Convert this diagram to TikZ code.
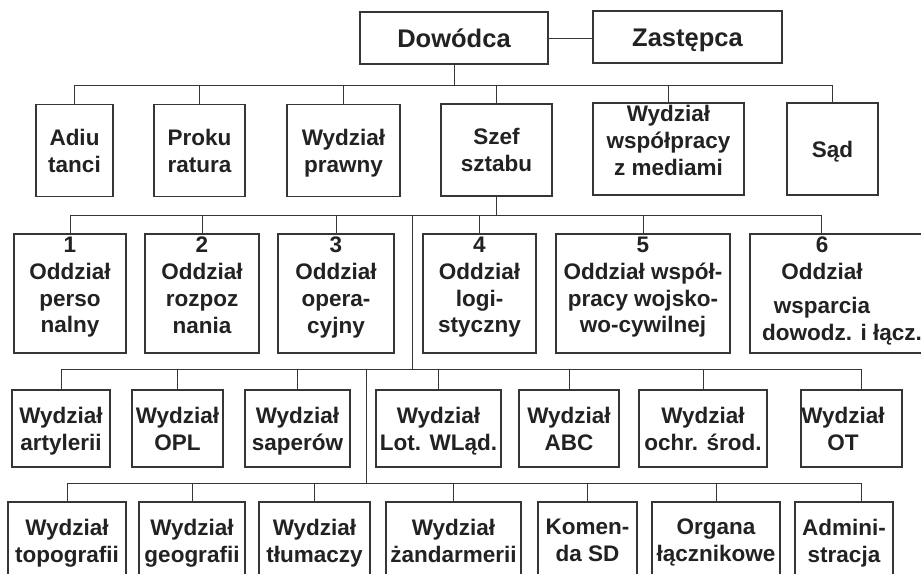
\documentclass[tikz,border=0pt]{standalone}
\usepackage{fontspec}
\setmainfont{Liberation Sans}
\usetikzlibrary{calc}
\definecolor{ink}{HTML}{222222}
\definecolor{linec}{HTML}{363636}

\begin{document}
\begin{tikzpicture}[x=1pt,y=-1pt,
  lab/.style={inner sep=0pt, align=center, text=ink,
    font=\bfseries\fontsize{22.5}{26.8}\selectfont},
  box/.style={lab, draw=linec, line width=1.3pt, rectangle},
  head/.style={box, font=\bfseries\fontsize{25.5}{30}\selectfont,
    text height=18.3pt, text depth=0pt, minimum height=52pt},
  rowA/.style={box, minimum height=92pt, text depth=0pt},
  rowB/.style={box, minimum height=119pt, text depth=17pt},
  rowC/.style={box, minimum height=77pt, text depth=0pt},
  rowD/.style={box, minimum height=77pt, text depth=0pt},
  link/.style={draw=linec, line width=1pt, line cap=rect}
]
\useasboundingbox (0,0) rectangle (921,573);
\fill[white] (0,0) rectangle (921,573);
\clip (0,0) rectangle (921,573);

% commander and deputy
\node[head, minimum width=188pt] (dow) at (454,38) {Dowódca};
\node[head, minimum width=189pt] (zas) at (687.5,37) {Zastępca};

% first level
\node[rowA, minimum width=77pt]  (adi) at (74.5,150.5)  {Adiu\\tanci};
\node[rowA, minimum width=91pt]  (pro) at (199.5,150.5) {Proku\\ratura};
\node[rowA, minimum width=113pt] (pra) at (343.5,150.5) {Wydział\\prawny};
\node[rowA, minimum width=111pt] (sze) at (496.5,150)   {Szef\\sztabu};
\node[rowA, minimum width=151pt, text depth=17pt] (med) at (668.5,149) {Wydział\\współpracy\\z mediami};
\node[rowA, minimum width=91pt]  (sad) at (832.5,149)   {Sąd};

% staff divisions
\node[rowB, minimum width=112pt] (o1) at (70,293.5)    {1\\Oddział\\perso\\nalny};
\node[rowB, minimum width=114pt] (o2) at (202,293.5)   {2\\Oddział\\rozpoz\\nania};
\node[rowB, minimum width=116pt] (o3) at (336,293.5)   {3\\Oddział\\opera-\\cyjny};
\node[rowB, minimum width=113pt] (o4) at (479.5,293.5) {4\\Oddział\\logi-\\styczny};
\node[rowB, minimum width=174pt] (o5) at (643,293.5)   {5\\Oddział współ-\\pracy wojsko-\\wo-cywilnej};
\node[rowB, minimum width=185pt] (o6) at (842.5,293.5) {};
\node[lab, anchor=north] (o6t) at (822,237) {6\\Oddział\\[7pt]wsparcia\\\hspace*{40pt}dowodz. i łącz.};

% branch sections
\node[rowC, minimum width=98pt]  (w1) at (61,428.5)    {Wydział\\artylerii};
\node[rowC, minimum width=91pt]  (w2) at (177.5,428.5) {Wydział\\OPL};
\node[rowC, minimum width=105pt] (w3) at (297.5,428.5) {Wydział\\saperów};
\node[rowC, minimum width=125pt] (w4) at (438.5,428.5) {Wydział\\Lot. WLąd.};
\node[rowC, minimum width=100pt] (w5) at (569,428.5)   {Wydział\\ABC};
\node[rowC, minimum width=128pt] (w6) at (703,428.5)   {Wydział\\ochr. środ.};
\node[rowC, minimum width=101pt] (w7) at (851.5,428.5) {};
\node[lab, text depth=0pt] (w7t) at (843,428.5) {Wydział\\OT};

% support sections
\node[rowD, minimum width=118pt] (z1) at (67,540.5)    {Wydział\\topografii};
\node[rowD, minimum width=106pt] (z2) at (192,540.5)   {Wydział\\geografii};
\node[rowD, minimum width=111pt] (z3) at (314.5,540.5) {Wydział\\tłumaczy};
\node[rowD, minimum width=135pt] (z4) at (453.5,540.5) {Wydział\\żandarmerii};
\node[rowD, minimum width=99pt]  (z5) at (587.5,540.5) {Komen-\\da SD};
\node[rowD, minimum width=128pt] (z6) at (716,540.5)   {Organa\\łącznikowe};
\node[rowD, minimum width=98pt]  (z7) at (844,540.5)   {Admini-\\stracja};

% bus levels and off-centre attachment points
\coordinate (bar1) at (0,85);
\coordinate (bar2) at (0,215);
\coordinate (bar3) at (0,369);
\coordinate (bar4) at (0,483);
\coordinate (sA) at (412,0);
\coordinate (sB) at (366,0);
\coordinate (o6top) at ($(o6.north west)+(72,0)$);
\coordinate (w7top) at ($(w7.north west)+(61,0)$);
\coordinate (z7top) at ($(z7.north west)+(67,0)$);

% connectors
\draw[link] (dow.east) -- (dow.east -| zas.west);

\draw[link] (dow.south) -- (dow.south |- bar1);
\draw[link] (adi.north |- bar1) -- (sad.north |- bar1);
\foreach \n in {adi,pro,pra,sze,med,sad}
  \draw[link] (\n.north) -- (\n.north |- bar1);

\draw[link] (sze.south) -- (sze.south |- bar2);
\draw[link] (o1.north |- bar2) -- (o6top |- bar2);
\foreach \n in {o1,o2,o3,o4,o5}
  \draw[link] (\n.north) -- (\n.north |- bar2);
\draw[link] (o6top) -- (o6top |- bar2);

\draw[link] (sA |- bar2) -- (sA |- bar3);
\draw[link] (w1.north |- bar3) -- (w7top |- bar3);
\foreach \n in {w1,w2,w3,w4,w5,w6}
  \draw[link] (\n.north) -- (\n.north |- bar3);
\draw[link] (w7top) -- (w7top |- bar3);

\draw[link] (sB |- bar3) -- (sB |- bar4);
\draw[link] (z1.north |- bar4) -- (z7top |- bar4);
\foreach \n in {z1,z2,z3,z4,z5,z6}
  \draw[link] (\n.north) -- (\n.north |- bar4);
\draw[link] (z7top) -- (z7top |- bar4);
\end{tikzpicture}
\end{document}
